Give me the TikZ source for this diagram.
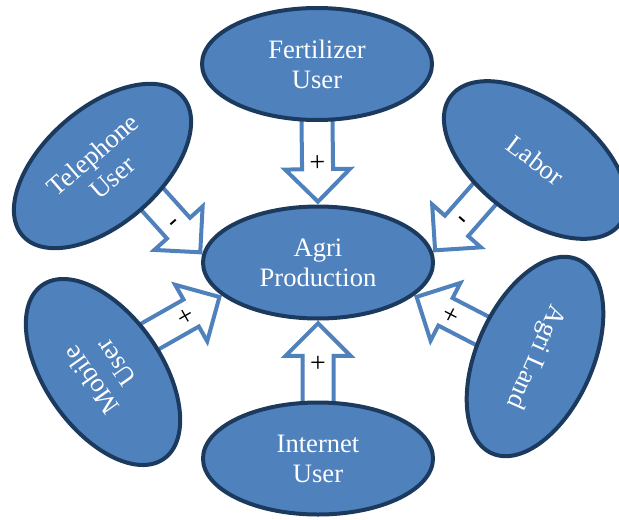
\documentclass[tikz,border=0pt]{standalone}
\usepackage{fontspec}
\setmainfont{Liberation Serif}
\usetikzlibrary{shapes.geometric,shapes.arrows,backgrounds}
\definecolor{fillblue}{HTML}{4F81BD}
\definecolor{edgeblue}{HTML}{1C3A5E}
% sign turned across the arrow, centred on the baseline, nudged to the tip
\newcommand{\crossmark}[1]{\hspace{14pt}\raisebox{-.5\height}{\rotatebox{90}{#1}}}
\begin{document}
\begin{tikzpicture}[x=0.5pt,y=-0.5pt, font=\fontsize{13.3}{15}\selectfont,
  blob/.style={ellipse, draw=edgeblue, line width=2pt, fill=fillblue, text=white,
    align=center, inner sep=1pt, minimum width=115pt, minimum height=56pt},
  small/.style={blob, minimum width=106pt, minimum height=58pt},
  sign/.style={single arrow, draw=fillblue, line width=2pt, fill=white,
    font=\fontsize{14}{15}\selectfont, inner sep=0pt, text height=6.75pt,
    text depth=6.75pt, minimum height=44pt, single arrow head extend=8.5pt,
    sloped, allow upside down, pos=1, anchor=tip}]
\useasboundingbox (0,0) rectangle (619,519);

\node[blob] (prod) at (318,262.5) {Agri\\Production};
\node[blob] (fert) at (317,64) {Fertilizer\\User};
\node[blob] (inet) at (318,458.5) {Internet\\User};

\node[small, rotate=41] (tel) at (102.5,166) {Telephone\\User};
\node[small, rotate=-37] (lab) at (535.5,160) {Labor};
\node[small, rotate=125] (mob) at (103,372) {Mobile\\User};
\node[small, rotate=-114] (land) at (535,356.5) {Agri Land};

% block arrows sit under the ellipses
\begin{scope}[on background layer]
\path (fert.south) -- node[sign] {\crossmark{+}} (prod.north);
\path (inet.north) -- node[sign] {\crossmark{+}} (prod.south);
\path (tel.-75) -- node[sign] {\crossmark{-}} (prod.176);
\path (lab.-109) -- node[sign] {\crossmark{-}} (prod.5);
\path (mob.-88) -- node[sign] {\crossmark{+}} (prod.199);
\path (land.-92) -- node[sign] {\crossmark{+}} (prod.-19);
\end{scope}

\end{tikzpicture}
\end{document}
